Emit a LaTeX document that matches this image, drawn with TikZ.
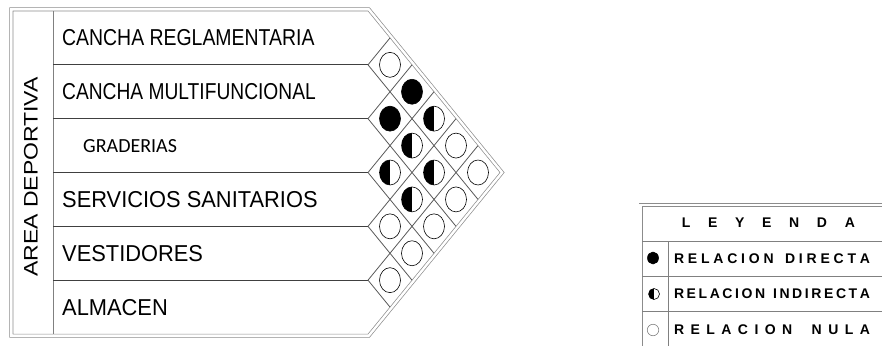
\documentclass[tikz,border=0pt]{standalone}
\usepackage{fontspec}
\setmainfont{Liberation Sans}
\newfontfamily\calfont{Carlito}
\usetikzlibrary{shapes.geometric}

\begin{document}
\begin{tikzpicture}[x=1pt, y=-1pt, line join=miter,
 frame/.style={draw=gray!90, double=white, double distance=2.4pt, line width=0.7pt},
 grid/.style={draw=black!65, line width=0.8pt},
 rowline/.style={draw=black!75, line width=0.8pt},
 item/.style={anchor=west, inner sep=0pt, font=\fontsize{23}{26}\selectfont},
 rel/.style={draw, ellipse, line width=0.6pt, minimum width=21pt, minimum height=25pt, inner sep=0pt},
 full/.style={rel, fill=black},
 half/.style={rel, fill=white, path picture={\fill[black] (path picture bounding box.south west) rectangle (path picture bounding box.north);}},
 nula/.style={rel, fill=white},
 leyenda/.style={font=\bfseries\fontsize{14}{16}\selectfont, inner sep=0pt}]
\useasboundingbox (0,0) rectangle (882,348);

% matrix frame
\draw[frame] (11.35,9.35) -- (368.8,9.35) -- (502.1,172.5) -- (368.8,335.65) -- (11.35,335.65) -- cycle;
\draw[draw=gray, line width=0.8pt] (53,11) -- (53,334);
\foreach \k in {1,...,5} {
  \draw[rowline] (53,{11+53.833*\k}) -- (368,{11+53.833*\k});
  \draw[grid] (368,{11+53.833*\k}) -- ++({22*(6-\k)},{26.917*(6-\k)});
  \draw[grid] (368,{11+53.833*\k}) -- ++({22*\k},{-26.917*\k});
}

% items
\node[rotate=90, inner sep=0pt, font=\fontsize{23}{26}\selectfont] (area) at (31,177) {\scalebox{1}[0.85]{AREA DEPORTIVA}};
\node[item, xscale=0.845] (t1) at (62,37.9) {CANCHA REGLAMENTARIA};
\node[item, xscale=0.835] (t2) at (62,91.7) {CANCHA MULTIFUNCIONAL};
\node[anchor=west, inner sep=0pt, font=\calfont\fontsize{20}{24}\selectfont] (t3) at (83,145.6) {GRADERIAS};
\node[item, xscale=0.95] (t4) at (62,199.4) {SERVICIOS SANITARIOS};
\node[item, xscale=0.95] (t5) at (62,253.3) {VESTIDORES};
\node[item, xscale=0.95] (t6) at (62,307.1) {ALMACEN};

% relations
\foreach \c/\k/\t in {1/1/nula, 1/2/full, 1/3/half, 1/4/nula, 1/5/nula,
                      2/1/full, 2/2/half, 2/3/half, 2/4/nula,
                      3/1/half, 3/2/half, 3/3/nula,
                      4/1/nula, 4/2/nula,
                      5/1/nula}
  \node[\t] (r\c\k) at ({368+22*\c},{11+53.833*(\k+(\c-1)/2)}) {};

% leyenda
\draw[frame] (895,205.2) -- (640.6,205.2) -- (640.6,347.4) -- (895,347.4);
\draw[draw=gray, line width=0.8pt] (642,241.5) -- (882,241.5);
\draw[draw=gray, line width=0.8pt] (642,276) -- (882,276);
\draw[draw=gray, line width=0.8pt] (642,311.5) -- (882,311.5);
\draw[draw=gray, line width=0.8pt] (668.5,241.5) -- (668.5,346);
\node[leyenda] (ley) at (768.4,223) {\makebox[173pt][s]{L E Y E N D A}};
\node[full, minimum width=11pt, minimum height=12pt] (sd) at (653,258) {};
\node[half, minimum width=11pt, minimum height=11pt] (si) at (654,294) {};
\node[nula, draw=gray, minimum width=11.5pt, minimum height=11.5pt] (sn) at (653,330) {};
\node[leyenda] (ld) at (772,258.5) {\makebox[196pt][s]{R E L A C I O N ~ D I R E C T A}};
\node[leyenda] (li) at (772,294) {\makebox[196pt][s]{R E L A C I O N ~ I N D I R E C T A}};
\node[leyenda] (ln) at (772,329.5) {\makebox[196pt][s]{R E L A C I O N ~ N U L A}};
\end{tikzpicture}
\end{document}
